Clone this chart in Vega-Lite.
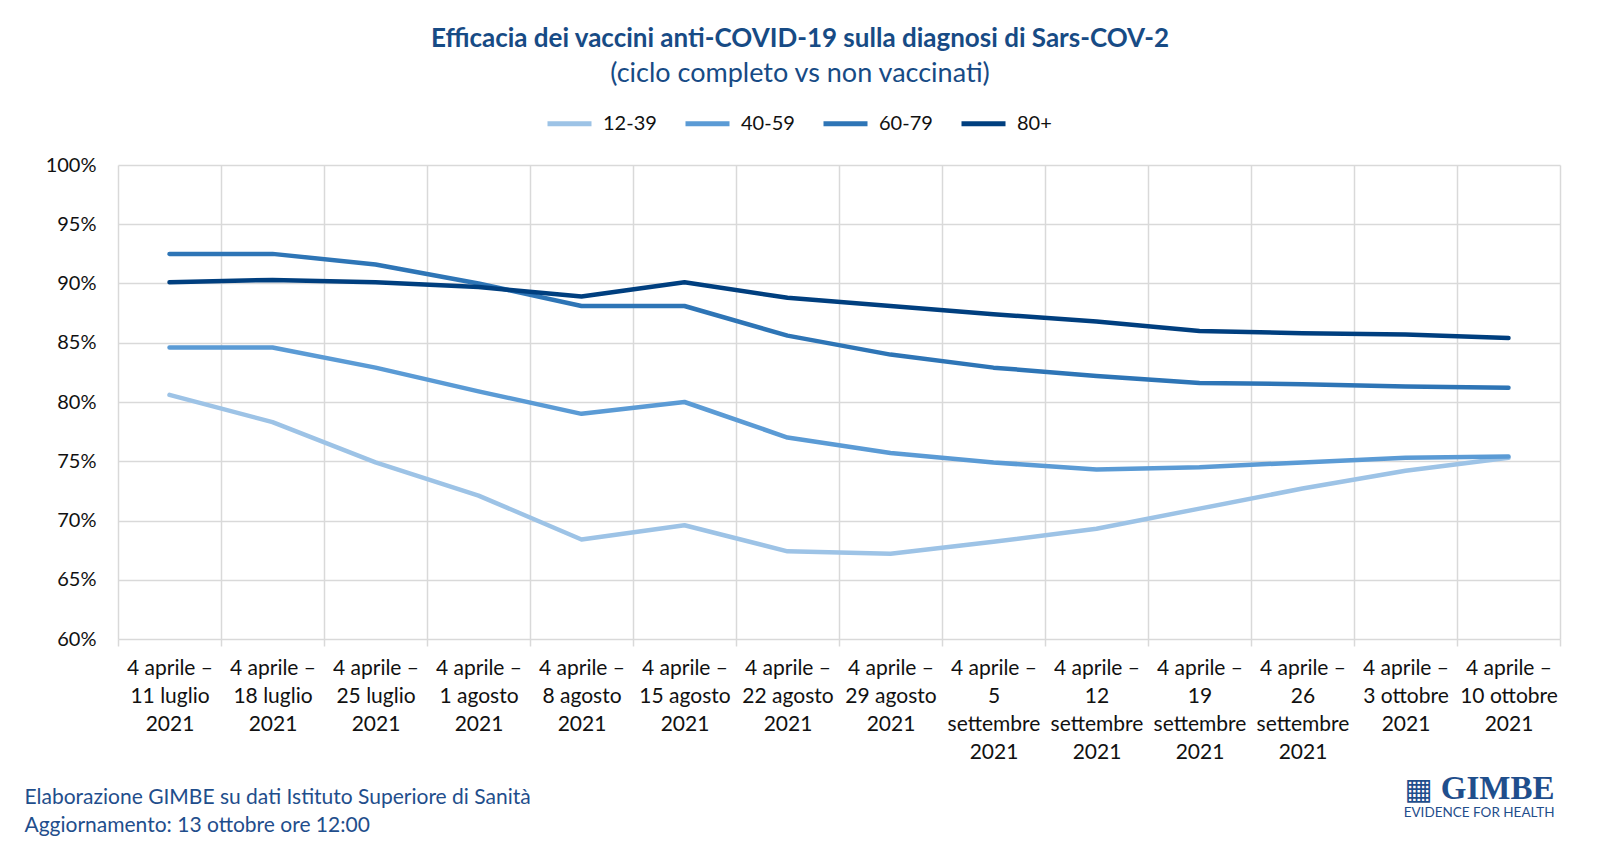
{
  "$schema": "https://vega.github.io/schema/vega-lite/v6.json",
  "width": 1442,
  "height": 474,
  "autosize": {"type": "none"},
  "padding": {"left": 118, "top": 165, "right": 40, "bottom": 214},
  "background": "white",
  "title": {
    "text": "Efficacia  dei vaccini anti-COVID-19 sulla diagnosi di Sars-COV-2",
    "subtitle": "(ciclo completo vs non vaccinati)",
    "font": "Lato",
    "fontSize": 26,
    "fontWeight": "bold",
    "color": "#174B85",
    "subtitleFont": "Lato",
    "subtitleFontSize": 27,
    "subtitleColor": "#174B85",
    "subtitlePadding": 9,
    "anchor": "middle",
    "frame": "group",
    "dx": -39,
    "offset": 12
  },
  "data": {
    "values": [
      {"periodo": "4 aprile – 11 luglio 2021", "eta": "12-39", "efficacia": 0.806},
      {"periodo": "4 aprile – 18 luglio 2021", "eta": "12-39", "efficacia": 0.783},
      {"periodo": "4 aprile – 25 luglio 2021", "eta": "12-39", "efficacia": 0.749},
      {"periodo": "4 aprile – 1 agosto 2021", "eta": "12-39", "efficacia": 0.721},
      {"periodo": "4 aprile – 8 agosto 2021", "eta": "12-39", "efficacia": 0.684},
      {"periodo": "4 aprile – 15 agosto 2021", "eta": "12-39", "efficacia": 0.696},
      {"periodo": "4 aprile – 22 agosto 2021", "eta": "12-39", "efficacia": 0.674},
      {"periodo": "4 aprile – 29 agosto 2021", "eta": "12-39", "efficacia": 0.672},
      {"periodo": "4 aprile – 5 settembre 2021", "eta": "12-39", "efficacia": 0.682},
      {"periodo": "4 aprile – 12 settembre 2021", "eta": "12-39", "efficacia": 0.693},
      {"periodo": "4 aprile – 19 settembre 2021", "eta": "12-39", "efficacia": 0.710},
      {"periodo": "4 aprile – 26 settembre 2021", "eta": "12-39", "efficacia": 0.727},
      {"periodo": "4 aprile – 3 ottobre 2021", "eta": "12-39", "efficacia": 0.742},
      {"periodo": "4 aprile – 10 ottobre 2021", "eta": "12-39", "efficacia": 0.753},
      {"periodo": "4 aprile – 11 luglio 2021", "eta": "40-59", "efficacia": 0.846},
      {"periodo": "4 aprile – 18 luglio 2021", "eta": "40-59", "efficacia": 0.846},
      {"periodo": "4 aprile – 25 luglio 2021", "eta": "40-59", "efficacia": 0.829},
      {"periodo": "4 aprile – 1 agosto 2021", "eta": "40-59", "efficacia": 0.809},
      {"periodo": "4 aprile – 8 agosto 2021", "eta": "40-59", "efficacia": 0.790},
      {"periodo": "4 aprile – 15 agosto 2021", "eta": "40-59", "efficacia": 0.800},
      {"periodo": "4 aprile – 22 agosto 2021", "eta": "40-59", "efficacia": 0.770},
      {"periodo": "4 aprile – 29 agosto 2021", "eta": "40-59", "efficacia": 0.757},
      {"periodo": "4 aprile – 5 settembre 2021", "eta": "40-59", "efficacia": 0.749},
      {"periodo": "4 aprile – 12 settembre 2021", "eta": "40-59", "efficacia": 0.743},
      {"periodo": "4 aprile – 19 settembre 2021", "eta": "40-59", "efficacia": 0.745},
      {"periodo": "4 aprile – 26 settembre 2021", "eta": "40-59", "efficacia": 0.749},
      {"periodo": "4 aprile – 3 ottobre 2021", "eta": "40-59", "efficacia": 0.753},
      {"periodo": "4 aprile – 10 ottobre 2021", "eta": "40-59", "efficacia": 0.754},
      {"periodo": "4 aprile – 11 luglio 2021", "eta": "60-79", "efficacia": 0.925},
      {"periodo": "4 aprile – 18 luglio 2021", "eta": "60-79", "efficacia": 0.925},
      {"periodo": "4 aprile – 25 luglio 2021", "eta": "60-79", "efficacia": 0.916},
      {"periodo": "4 aprile – 1 agosto 2021", "eta": "60-79", "efficacia": 0.900},
      {"periodo": "4 aprile – 8 agosto 2021", "eta": "60-79", "efficacia": 0.881},
      {"periodo": "4 aprile – 15 agosto 2021", "eta": "60-79", "efficacia": 0.881},
      {"periodo": "4 aprile – 22 agosto 2021", "eta": "60-79", "efficacia": 0.856},
      {"periodo": "4 aprile – 29 agosto 2021", "eta": "60-79", "efficacia": 0.840},
      {"periodo": "4 aprile – 5 settembre 2021", "eta": "60-79", "efficacia": 0.829},
      {"periodo": "4 aprile – 12 settembre 2021", "eta": "60-79", "efficacia": 0.822},
      {"periodo": "4 aprile – 19 settembre 2021", "eta": "60-79", "efficacia": 0.816},
      {"periodo": "4 aprile – 26 settembre 2021", "eta": "60-79", "efficacia": 0.815},
      {"periodo": "4 aprile – 3 ottobre 2021", "eta": "60-79", "efficacia": 0.813},
      {"periodo": "4 aprile – 10 ottobre 2021", "eta": "60-79", "efficacia": 0.812},
      {"periodo": "4 aprile – 11 luglio 2021", "eta": "80+", "efficacia": 0.901},
      {"periodo": "4 aprile – 18 luglio 2021", "eta": "80+", "efficacia": 0.903},
      {"periodo": "4 aprile – 25 luglio 2021", "eta": "80+", "efficacia": 0.901},
      {"periodo": "4 aprile – 1 agosto 2021", "eta": "80+", "efficacia": 0.897},
      {"periodo": "4 aprile – 8 agosto 2021", "eta": "80+", "efficacia": 0.889},
      {"periodo": "4 aprile – 15 agosto 2021", "eta": "80+", "efficacia": 0.901},
      {"periodo": "4 aprile – 22 agosto 2021", "eta": "80+", "efficacia": 0.888},
      {"periodo": "4 aprile – 29 agosto 2021", "eta": "80+", "efficacia": 0.881},
      {"periodo": "4 aprile – 5 settembre 2021", "eta": "80+", "efficacia": 0.874},
      {"periodo": "4 aprile – 12 settembre 2021", "eta": "80+", "efficacia": 0.868},
      {"periodo": "4 aprile – 19 settembre 2021", "eta": "80+", "efficacia": 0.860},
      {"periodo": "4 aprile – 26 settembre 2021", "eta": "80+", "efficacia": 0.858},
      {"periodo": "4 aprile – 3 ottobre 2021", "eta": "80+", "efficacia": 0.857},
      {"periodo": "4 aprile – 10 ottobre 2021", "eta": "80+", "efficacia": 0.854}
    ]
  },
  "layer": [
    {
      "mark": {"type": "line", "strokeWidth": 4.5, "strokeCap": "round", "strokeJoin": "round"},
      "encoding": {
        "x": {
          "field": "periodo",
          "type": "nominal",
          "sort": null,
          "scale": {"type": "band", "paddingInner": 0, "paddingOuter": 0},
          "axis": {
            "tickBand": "extent",
            "grid": true,
            "gridColor": "#D9D9D9",
            "gridWidth": 1.5,
            "ticks": true,
            "tickColor": "#D9D9D9",
            "tickWidth": 1.5,
            "tickSize": 7,
            "domain": false,
            "labelAngle": 0,
            "labelFont": "Lato",
            "labelFontSize": 21,
            "labelColor": "#111111",
            "labelLineHeight": 28,
            "labelPadding": 11,
            "labelOverlap": false,
            "labelExpr": "isString(datum.value) && indexof(datum.value,' – ')>0 ? (indexof(datum.value,'settembre')>=0 ? [split(datum.value,' – ')[0]+' –', split(split(datum.value,' – ')[1],' ')[0], 'settembre', '2021'] : [split(datum.value,' – ')[0]+' –', replace(split(datum.value,' – ')[1],' 2021',''), '2021']) : ''",
            "title": ["Elaborazione GIMBE su dati Istituto Superiore di Sanità", "Aggiornamento: 13 ottobre ore 12:00"],
            "titleFont": "Lato",
            "titleFontSize": 21,
            "titleFontWeight": "normal",
            "titleColor": "#1F4E8C",
            "titleAnchor": "start",
            "titleAlign": "left",
            "titleBaseline": "top",
            "titleLineHeight": 28,
            "titleX": -94,
            "titleY": 147
          }
        },
        "y": {
          "field": "efficacia",
          "type": "quantitative",
          "scale": {"domain": [0.6, 1], "nice": false, "zero": false},
          "axis": {
            "values": [0.6, 0.65, 0.7, 0.75, 0.8, 0.85, 0.9, 0.95, 1],
            "format": ".0%",
            "grid": true,
            "gridColor": "#D9D9D9",
            "gridWidth": 1.5,
            "ticks": false,
            "domain": false,
            "labelFont": "Lato",
            "labelFontSize": 20,
            "labelColor": "#111111",
            "labelPadding": 22,
            "title": null
          }
        },
        "color": {
          "field": "eta",
          "type": "nominal",
          "scale": {"domain": ["12-39", "40-59", "60-79", "80+"], "range": ["#9DC3E6", "#5B9BD5", "#2E75B6", "#003F7F"]},
          "legend": {
            "orient": "none",
            "direction": "horizontal",
            "legendX": 427,
            "legendY": -66,
            "title": null,
            "symbolType": "stroke",
            "symbolSize": 1936,
            "symbolStrokeWidth": 5,
            "labelFont": "Lato",
            "labelFontSize": 20,
            "labelColor": "#111111",
            "labelOffset": 9,
            "columnPadding": 18
          }
        }
      }
    },
    {
      "data": {"values": [{"logo": "GIMBE"}]},
      "mark": {"type": "text", "font": "Liberation Serif", "fontSize": 33, "fontWeight": "bold", "color": "#1F4E8C", "align": "right", "baseline": "alphabetic", "dx": 46},
      "encoding": {
        "x": {"datum": "4 aprile – 10 ottobre 2021"},
        "y": {"datum": 0.465},
        "text": {"field": "logo"}
      }
    },
    {
      "data": {"values": [{"logo": "▦"}]},
      "mark": {"type": "text", "font": "DejaVu Sans", "fontSize": 30, "color": "#1F4E8C", "align": "right", "baseline": "alphabetic", "dx": -76},
      "encoding": {
        "x": {"datum": "4 aprile – 10 ottobre 2021"},
        "y": {"datum": 0.465},
        "text": {"field": "logo"}
      }
    },
    {
      "data": {"values": [{"logo": "EVIDENCE FOR HEALTH"}]},
      "mark": {"type": "text", "font": "Lato", "fontSize": 13.5, "color": "#1F4E8C", "align": "right", "baseline": "alphabetic", "dx": 46},
      "encoding": {
        "x": {"datum": "4 aprile – 10 ottobre 2021"},
        "y": {"datum": 0.4498},
        "text": {"field": "logo"}
      }
    }
  ],
  "config": {
    "view": {"stroke": null}
  }
}
